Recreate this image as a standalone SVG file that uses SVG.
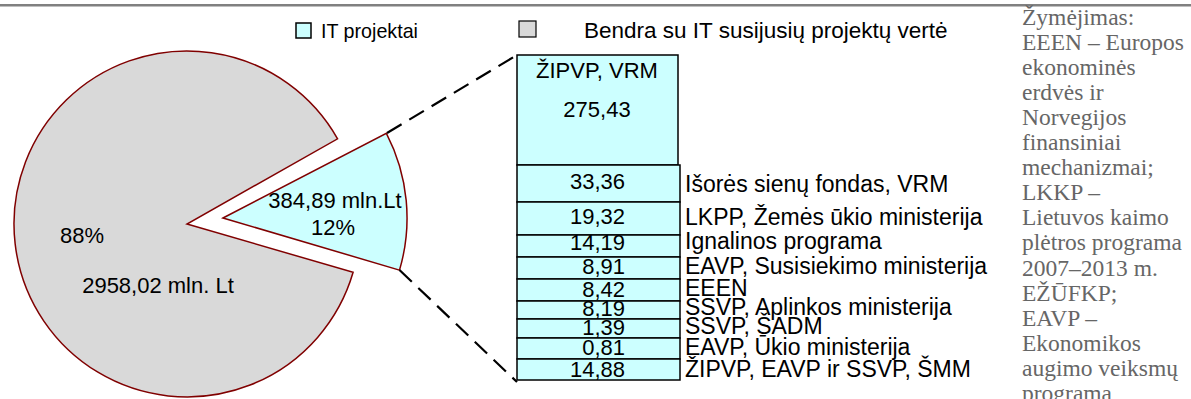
<svg xmlns="http://www.w3.org/2000/svg" width="1191" height="399" viewBox="0 0 1191 399">
<style>
.t{font-family:"Liberation Sans",Arial,sans-serif;font-size:22px;fill:#000}
.l{font-family:"Liberation Sans",Arial,sans-serif;font-size:23px;fill:#000}
.n{font-family:"Liberation Serif","Times New Roman",serif;font-size:23.5px;fill:#666}
.bx{fill:#ccffff;stroke:#000;stroke-width:1.5}
.pie{stroke:#800000;stroke-width:1.5}
.dash{stroke:#000;stroke-width:2.2;stroke-dasharray:17 9;fill:none}
</style>
<rect x="0" y="4" width="1191" height="2.5" fill="#808080"/>
<g id="legend">
<rect x="296" y="23" width="15" height="15" class="bx" stroke-width="1.2"/>
<text class="t" x="321" y="38" style="font-size:21px" textLength="97" lengthAdjust="spacingAndGlyphs">IT projektai</text>
<rect x="519" y="21" width="17" height="16" fill="#d9d9d9" stroke="#000" stroke-width="1.2"/>
<text class="t" x="584" y="38" style="font-size:22.5px">Bendra su IT susijusių projektų vertė</text>
</g>
<g id="pie-other">
<path class="pie" fill="#d9d9d9" d="M187,224 L353.1,272.3 A173,173 0 1 1 337.6,138.8 Z"/>
<text class="t" x="60" y="243">88%</text>
<text class="t" x="158" y="293" text-anchor="middle">2958,02 mln. Lt</text>
</g>
<g id="pie-it">
<path class="pie" fill="#ccffff" d="M223,218 L386.4,133.3 A184,184 0 0 1 399.5,270.1 Z"/>
<text class="t" x="335" y="208" text-anchor="middle">384,89 mln.Lt</text>
<text class="t" x="333" y="235" text-anchor="middle">12%</text>
</g>
<g id="connectors">
<line class="dash" x1="387" y1="133" x2="517" y2="55"/>
<line class="dash" x1="399.5" y1="270" x2="517" y2="382"/>
</g>
<g id="stack">
<g id="row1"><rect class="bx" x="517" y="55" width="161" height="110"/><text class="t" x="597" y="78" text-anchor="middle">ŽIPVP, VRM</text><text class="t" x="597" y="117" text-anchor="middle">275,43</text></g>
<g id="row2"><rect class="bx" x="517" y="165" width="163" height="37"/><text class="t" x="625" y="189" text-anchor="end">33,36</text><text class="l" x="685" y="192">Išorės sienų fondas, VRM</text></g>
<g id="row3"><rect class="bx" x="517" y="202" width="163" height="33"/><text class="t" x="625" y="224" text-anchor="end">19,32</text><text class="l" x="685" y="225">LKPP, Žemės ūkio ministerija</text></g>
<g id="row4"><rect class="bx" x="517" y="235" width="163" height="22"/><text class="t" x="625" y="250" text-anchor="end">14,19</text><text class="l" x="685" y="249">Ignalinos programa</text></g>
<g id="row5"><rect class="bx" x="517" y="257" width="163" height="22"/><text class="t" x="625" y="274" text-anchor="end">8,91</text><text class="l" x="685" y="274">EAVP, Susisiekimo ministerija</text></g>
<g id="row6"><rect class="bx" x="517" y="279" width="163" height="22"/><text class="t" x="625" y="297" text-anchor="end">8,42</text><text class="l" x="685" y="296">EEEN</text></g>
<g id="row7"><rect class="bx" x="517" y="301" width="163" height="18"/><text class="t" x="625" y="316" text-anchor="end">8,19</text><text class="l" x="685" y="315">SSVP, Aplinkos ministerija</text></g>
<g id="row8"><rect class="bx" x="517" y="319" width="163" height="19"/><text class="t" x="625" y="335" text-anchor="end">1,39</text><text class="l" x="685" y="334">SSVP, ŠADM</text></g>
<g id="row9"><rect class="bx" x="517" y="338" width="163" height="21"/><text class="t" x="625" y="355" text-anchor="end">0,81</text><text class="l" x="685" y="355">EAVP, Ūkio ministerija</text></g>
<g id="row10"><rect class="bx" x="517" y="359" width="163" height="21"/><text class="t" x="625" y="377" text-anchor="end">14,88</text><text class="l" x="685" y="377">ŽIPVP, EAVP ir SSVP, ŠMM</text></g>
</g>
<g id="notes">
<text class="n" x="1022" y="24.5">Žymėjimas:</text>
<text class="n" x="1022" y="49.6">EEEN – Europos</text>
<text class="n" x="1022" y="74.7">ekonominės</text>
<text class="n" x="1022" y="99.8">erdvės ir</text>
<text class="n" x="1022" y="124.9">Norvegijos</text>
<text class="n" x="1022" y="150">finansiniai</text>
<text class="n" x="1022" y="175.1">mechanizmai;</text>
<text class="n" x="1022" y="200.2">LKKP –</text>
<text class="n" x="1022" y="225.3">Lietuvos kaimo</text>
<text class="n" x="1022" y="250.4">plėtros programa</text>
<text class="n" x="1022" y="275.5">2007–2013 m.</text>
<text class="n" x="1022" y="300.6">EŽŪFKP;</text>
<text class="n" x="1022" y="325.7">EAVP –</text>
<text class="n" x="1022" y="350.8">Ekonomikos</text>
<text class="n" x="1022" y="375.9">augimo veiksmų</text>
<text class="n" x="1022" y="401">programa</text>
</g>
</svg>
